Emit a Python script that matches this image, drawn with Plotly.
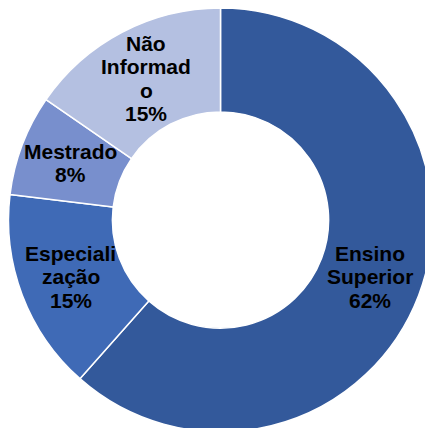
import math
import plotly.graph_objects as go

labels = ["Ensino Superior", "Especialização", "Mestrado", "Não Informado"]
label_lines = [["Ensino", "Superior"], ["Especiali", "zação"], ["Mestrado"], ["Não", "Informad", "o"]]
values = [16, 4, 2, 4]
colors = ["#33599B", "#3F6AB6", "#788FCD", "#B4C0E1"]

W, H = 440, 440
CX, CY = 220.5, 220
R_OUT = 212
HOLE = 0.51

fig = go.Figure(go.Pie(
    labels=labels,
    values=values,
    textinfo="none",
    marker=dict(colors=colors, line=dict(color="white", width=1.5)),
    hole=HOLE,
    sort=False,
    direction="clockwise",
    rotation=0,
    showlegend=False,
    hoverinfo="label+percent",
    domain=dict(x=[(CX - R_OUT) / W, (CX + R_OUT) / W], y=[(CY - R_OUT) / H, (CY + R_OUT) / H]),
))

# Labels at the middle of each ring segment, derived from the values
total = sum(values)
r_mid = R_OUT * (1 + HOLE) / 2
pitch = 23.5
annotations = []
cum = 0
for lab_lines, v in zip(label_lines, values):
    frac_mid = (cum + v / 2) / total
    cum += v
    ang = 2 * math.pi * frac_mid
    px = CX + r_mid * math.sin(ang)
    py = CY - r_mid * math.cos(ang)
    lines = lab_lines + [f"{round(100 * v / total)}%"]
    n = len(lines)
    for j, line in enumerate(lines):
        annotations.append(dict(
            x=px / W, y=1 - py / H, xref="paper", yref="paper",
            text=line, showarrow=False, xanchor="center", yanchor="middle",
            yshift=-(j - (n - 1) / 2) * pitch,
            font=dict(family="Liberation Sans, Arial", size=21, color="black", weight="bold"),
        ))

fig.update_layout(
    width=W, height=H,
    margin=dict(l=0, r=0, t=0, b=0),
    paper_bgcolor="white",
    annotations=annotations,
)

fig.write_html(
    "out.html",
    config={"displayModeBar": False},
    post_script="document.body.style.margin='0';document.body.style.overflow='hidden';document.documentElement.style.overflow='hidden';",
)
